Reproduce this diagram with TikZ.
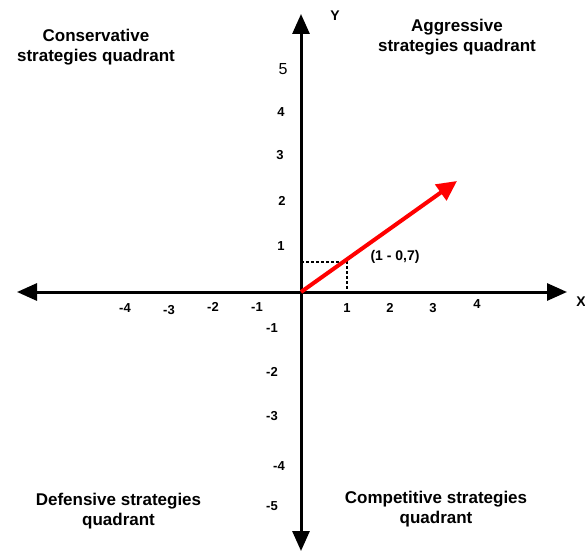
\documentclass[tikz,border=0pt]{standalone}
\usepackage{fontspec}
\setmainfont{Liberation Sans}
\usetikzlibrary{arrows.meta}
\tikzset{
  axis/.style={line width=3pt,-{Triangle[length=20pt,width=17pt]}},
  vec/.style={red,line width=4pt,-{Triangle[length=20pt,width=19pt]}},
  guide/.style={line width=1.3pt,dash pattern=on 3pt off 2pt},
  quad/.style={font=\fontsize{17}{20}\selectfont\bfseries,align=center,inner sep=0pt},
  tick/.style={font=\fontsize{13}{15}\selectfont\bfseries,inner sep=0pt},
  axlab/.style={font=\fontsize{14}{16}\selectfont\bfseries,inner sep=0pt}
}
\begin{document}
\begin{tikzpicture}[x=1pt,y=-1pt]
\useasboundingbox (0,0) rectangle (585,553);
\coordinate (O) at (301,292);
\coordinate (xl) at (17,292);
\coordinate (xr) at (567,292);
\coordinate (yt) at (301,14);
\coordinate (yb) at (301,551);
\coordinate (P) at (347,262);
\coordinate (Px) at (347,292);
\coordinate (Py) at (301,262);
\coordinate (V) at (457,181);
\draw[axis] (O) -- (xl);
\draw[axis] (O) -- (xr);
\draw[axis] (O) -- (yt);
\draw[axis] (O) -- (yb);
\draw[guide] (Py) -- (P) -- (Px);
\draw[vec] (O) -- (V);
% axis labels
\node[axlab] (Ylab) at (335,16) {Y};
\node[axlab] (Xlab) at (581,302) {X};
% y ticks
\node[font=\fontsize{16}{18}\selectfont,inner sep=0pt] (y5) at (283,69) {5};
\node[tick] (y4) at (281,112) {4};
\node[tick] (y3) at (280,155) {3};
\node[tick] (y2) at (282,201) {2};
\node[tick] (y1) at (281,246) {1};
\node[tick] (ym1) at (272,328) {-1};
\node[tick] (ym2) at (272,372) {-2};
\node[tick] (ym3) at (272,416) {-3};
\node[tick] (ym4) at (279,466) {-4};
\node[tick] (ym5) at (272,506) {-5};
% x ticks
\node[tick] (xm4) at (125,308) {-4};
\node[tick] (xm3) at (169,310) {-3};
\node[tick] (xm2) at (213,307) {-2};
\node[tick] (xm1) at (257,307) {-1};
\node[tick] (x1) at (347,308) {1};
\node[tick] (x2) at (390,308) {2};
\node[tick] (x3) at (433,308) {3};
\node[tick] (x4) at (477,304) {4};
\node[tick,font=\fontsize{14}{16}\selectfont\bfseries] (pt) at (395,257) {(1 - 0,7)};
% quadrants (base = baseline of the last line)
\node[quad,anchor=base] (q1) at (96,62) {Conservative\\strategies quadrant};
\node[quad,anchor=base] (q2) at (457,52) {Aggressive\\strategies quadrant};
\node[quad,anchor=base] (q3) at (118.5,525) {Defensive strategies\\quadrant};
\node[quad,anchor=base] (q4) at (436,523) {Competitive strategies\\quadrant};
\end{tikzpicture}
\end{document}
